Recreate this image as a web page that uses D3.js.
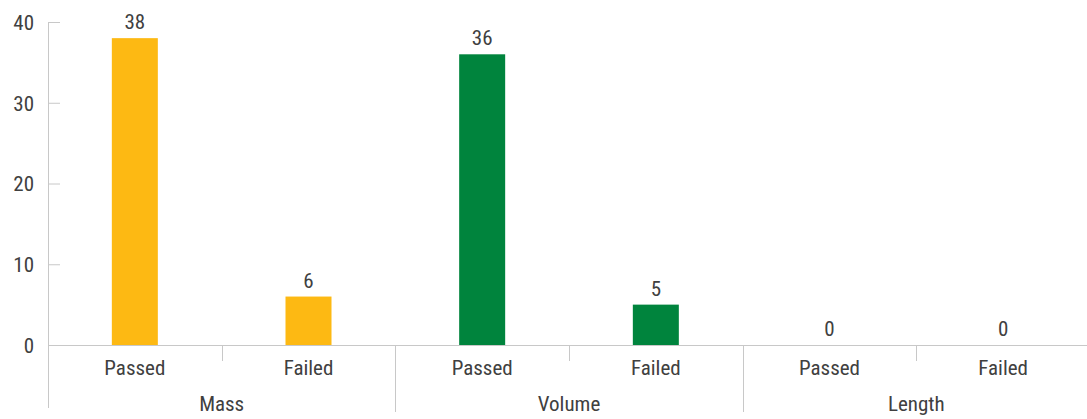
<!DOCTYPE html>
<html>
<head>
<meta charset="utf-8">
<script src="https://cdn.jsdelivr.net/npm/d3@7"></script>
<style>
	body { margin: 0; background: #fff; }
	svg { display: block; }
	text { font-family: "Liberation Sans Narrow", "Roboto Condensed", "Open Sans", sans-serif; fill: #404040; }
</style>
</head>
<body>
<svg id="chart" width="1087" height="419"></svg>
<script>
// data
var groups = ['Mass', 'Volume', 'Length'];
var outcomes = ['Passed', 'Failed'];
var passedCounts = [38, 36, 0];
var failedCounts = [6, 5, 0];
var groupColors = ['#FDB913', '#00843D', '#7F7F7F'];
var yTicks = [0, 10, 20, 30, 40];

var rows = [];
groups.forEach(function(g, i) {
	rows.push({ group: g, outcome: 'Passed', value: passedCounts[i], color: groupColors[i] });
	rows.push({ group: g, outcome: 'Failed', value: failedCounts[i], color: groupColors[i] });
});

var svg = d3.select('#chart');
var plotLeft = 48, plotRight = 1090, plotTop = 22, plotBottom = 345;
var lineColor = '#c8c8c8';
var fontSize = '21px';

var x0 = d3.scaleBand().domain(groups).range([plotLeft, plotRight]);
var slot = x0.bandwidth() / outcomes.length;
var y = d3.scaleLinear().domain([0, 40]).range([plotBottom, plotTop]);

function centerOf(d) {
	return x0(d.group) + (outcomes.indexOf(d.outcome) + 0.5) * slot;
}

// y axis
var yAxis = svg.append('g')
	.attr('transform', 'translate(' + plotLeft + ',0)')
	.call(d3.axisRight(y).tickValues(yTicks).tickSize(12).tickFormat(d3.format('d')));
yAxis.select('.domain').remove();
yAxis.selectAll('.tick line').attr('stroke', lineColor);
yAxis.selectAll('.tick text')
	.attr('x', -14)
	.attr('text-anchor', 'end')
	.attr('dy', '0.35em')
	.style('font-size', fontSize)
	.style('fill', '#404040');

svg.append('line')
	.attr('x1', plotLeft + 0.5).attr('x2', plotLeft + 0.5)
	.attr('y1', plotTop).attr('y2', 408)
	.attr('stroke', lineColor);

// bars
svg.selectAll('rect.bar')
	.data(rows)
	.enter()
	.append('rect')
	.attr('class', 'bar')
	.attr('x', function(d) { return centerOf(d) - 23; })
	.attr('width', 46)
	.attr('y', function(d) { return y(d.value); })
	.attr('height', function(d) { return plotBottom - y(d.value); })
	.attr('fill', function(d) { return d.color; });

// value labels
svg.selectAll('text.value')
	.data(rows)
	.enter()
	.append('text')
	.attr('class', 'value')
	.attr('x', centerOf)
	.attr('y', function(d) { return y(d.value) - 9; })
	.attr('text-anchor', 'middle')
	.style('font-size', fontSize)
	.text(function(d) { return d.value; });

// baseline
svg.append('line')
	.attr('x1', plotLeft).attr('x2', plotRight)
	.attr('y1', plotBottom + 0.5).attr('y2', plotBottom + 0.5)
	.attr('stroke', lineColor);

// two-level category axis
groups.forEach(function(g, i) {
	var gx = x0(g);
	outcomes.forEach(function(o, j) {
		svg.append('text')
			.attr('x', gx + (j + 0.5) * slot)
			.attr('y', 375)
			.attr('text-anchor', 'middle')
			.style('font-size', fontSize)
			.text(o);
		if (j > 0)
			svg.append('line')
				.attr('x1', Math.round(gx + j * slot) + 0.5).attr('x2', Math.round(gx + j * slot) + 0.5)
				.attr('y1', plotBottom).attr('y2', 361)
				.attr('stroke', lineColor);
	});
	svg.append('text')
		.attr('x', gx + x0.bandwidth() / 2)
		.attr('y', 411)
		.attr('text-anchor', 'middle')
		.style('font-size', fontSize)
		.text(g);
	if (i > 0)
		svg.append('line')
			.attr('x1', Math.round(gx) + 0.5).attr('x2', Math.round(gx) + 0.5)
			.attr('y1', plotBottom).attr('y2', 412)
			.attr('stroke', lineColor);
});
</script>
</body>
</html>
